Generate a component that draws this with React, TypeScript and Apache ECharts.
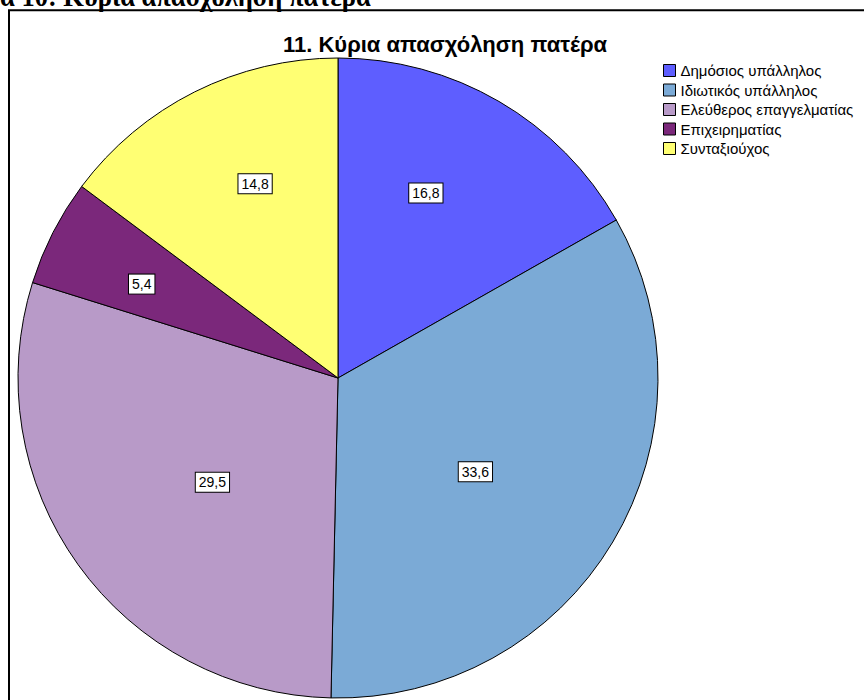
import React, { useEffect, useRef } from "react";
import * as echarts from "echarts";

const categories = [
  "Δημόσιος υπάλληλος",
  "Ιδιωτικός υπάλληλος",
  "Ελεύθερος επαγγελματίας",
  "Επιχειρηματίας",
  "Συνταξιούχος",
];
const values = [16.8, 33.6, 29.5, 5.4, 14.8];
const colors = ["#5E5EFF", "#7BAAD6", "#B89AC8", "#7B287B", "#FFFF73"];
// label placement style: distance from centre (fraction of radius) and angle tweak (deg)
const labelRadiusFrac = [0.64, 0.52, 0.51, 0.68, 0.66];
const labelAngleShift = [-4.8, 3.5, -4, -1.5, 3.5];
const chartTitle = "11. Κύρια απασχόληση πατέρα";
const pageHeading = "α 10: Κύρια απασχόληση πατέρα";

const CX = 338;
const CY = 378;
const R = 320;

export default function App() {
  const ref = useRef<HTMLDivElement>(null);
  useEffect(() => {
    if (!ref.current) return;
    const chart = echarts.init(ref.current, null, { renderer: "svg" });
    const total = values.reduce((a, b) => a + b, 0);
    const midAngles: number[] = [];
    let acc = 0;
    values.forEach((v) => {
      midAngles.push(((acc + v / 2) / total) * Math.PI * 2);
      acc += v;
    });
    chart.setOption({
      animation: false,
      backgroundColor: "#ffffff",
      title: {
        text: chartTitle,
        left: 440,
        top: 28,
        textAlign: "center",
        textStyle: {
          fontFamily: "Liberation Sans",
          fontSize: 22,
          fontWeight: "bold",
          color: "#000",
        },
      },
      legend: {
        orient: "vertical",
        left: 663,
        top: 63,
        itemWidth: 12,
        itemHeight: 12,
        itemGap: 4.5,
        padding: 0,
        icon: "rect",
        data: categories,
        textStyle: {
          fontFamily: "Liberation Sans",
          fontSize: 15,
          color: "#000",
        },
        itemStyle: { borderColor: "#000", borderWidth: 1 },
      },
      graphic: [
        {
          type: "text",
          left: 0,
          top: -17,
          style: {
            text: pageHeading,
            fontFamily: "Liberation Serif",
            fontWeight: "bold",
            fontSize: 26.5,
            fill: "#000",
          },
          z: 10,
        },
        {
          type: "rect",
          shape: { x: 9, y: 10.25, width: 1000, height: 1000 },
          style: { fill: "none", stroke: "#000", lineWidth: 2 },
          z: 10,
        },
      ],
      series: [
        {
          type: "pie",
          center: [CX, CY],
          radius: R,
          startAngle: 90,
          clockwise: true,
          data: categories.map((name, i) => ({
            name,
            value: values[i],
            itemStyle: { color: colors[i] },
          })),
          itemStyle: { borderColor: "#000", borderWidth: 1 },
          label: {
            show: true,
            position: "inside",
            formatter: (p: any) => String(values[p.dataIndex]).replace(".", ","),
            fontFamily: "Liberation Sans",
            fontSize: 14,
            color: "#000",
            backgroundColor: "#fff",
            borderColor: "#000",
            borderWidth: 1,
            padding: [3, 3, 2, 3],
          },
          labelLine: { show: false },
          labelLayout: (p: any) => {
            const i = p.dataIndex;
            const a = midAngles[i] + (labelAngleShift[i] * Math.PI) / 180;
            const rr = R * labelRadiusFrac[i];
            return {
              x: CX + rr * Math.sin(a),
              y: CY - rr * Math.cos(a),
              align: "center",
              verticalAlign: "middle",
            };
          },
          emphasis: { disabled: true },
        },
      ],
    });
    return () => chart.dispose();
  }, []);
  return (
    <div
      ref={ref}
      style={{ position: "fixed", left: 0, top: 0, width: 864, height: 700 }}
    />
  );
}
